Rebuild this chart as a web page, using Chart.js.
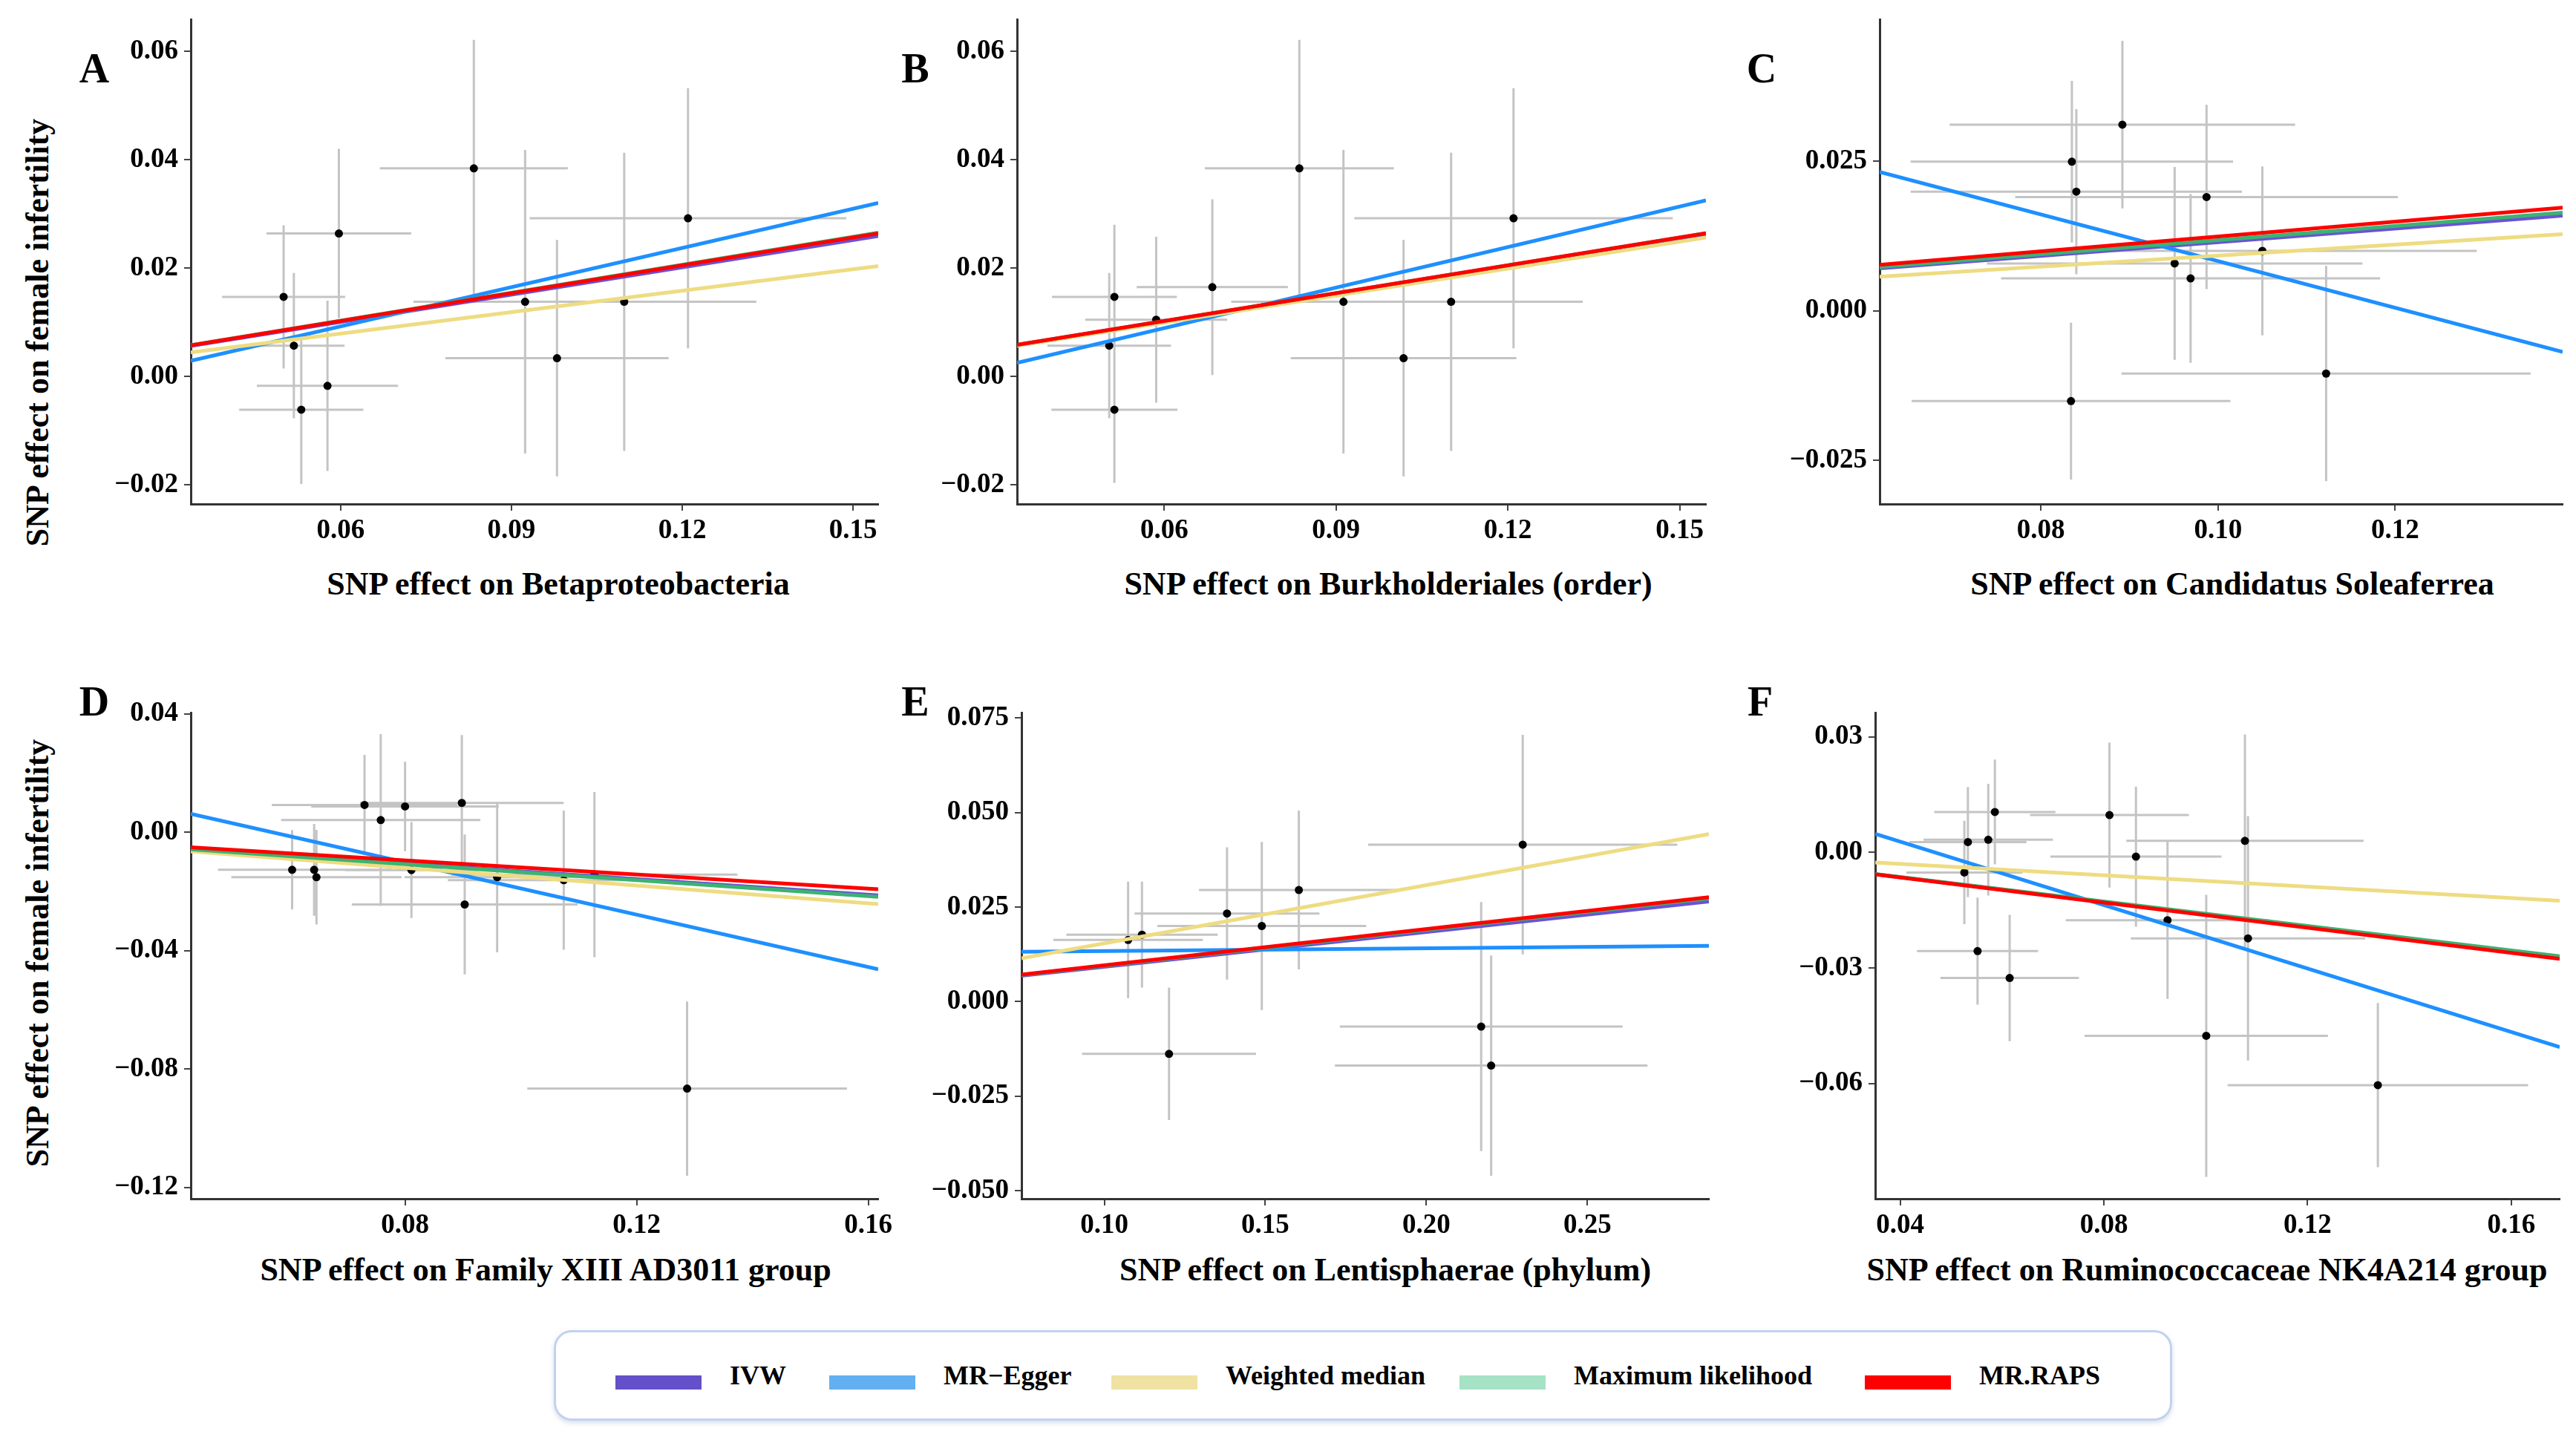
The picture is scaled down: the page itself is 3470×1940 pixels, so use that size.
<!DOCTYPE html>
<html>
<head>
<meta charset="utf-8">
<script src="https://cdn.jsdelivr.net/npm/chart.js@4.4.1/dist/chart.umd.min.js"></script>
<style>
    body {
        margin: 0;
        width: 3470px;
        height: 1940px;
        background: #fff;
        position: relative;
        overflow: hidden;
        font-family: "Liberation Serif", "Times New Roman", serif;
        font-weight: bold;
        color: #000;
    }
    canvas { position: absolute; }
    .letra { position: absolute; font-size: 56px; transform: translate(-50%, -50%); }
    .titulo { position: absolute; font-size: 44px; white-space: nowrap; transform: translate(-50%, -50%); }
    .tituloY { position: absolute; font-size: 44px; white-space: nowrap; transform: translate(-50%, -50%) rotate(-90deg); }
    .legenda {
        position: absolute; left: 746px; top: 1792px; width: 2180px; height: 122px;
        box-sizing: border-box; border: 3px solid #c3d1ee; border-radius: 24px;
        box-shadow: 0 3px 6px rgba(140, 160, 210, 0.35);
    }
    .item { position: absolute; top: 0; height: 100%; display: flex; align-items: center; font-size: 36px; }
    .cor { width: 116px; height: 19px; margin-right: 38px; margin-top: 18px; }
</style>
</head>
<body>

<div class="letra" style="left:127px; top:92px">A</div>
<div class="letra" style="left:1233px; top:92px">B</div>
<div class="letra" style="left:2373px; top:92px">C</div>
<div class="letra" style="left:127px; top:945px">D</div>
<div class="letra" style="left:1233px; top:945px">E</div>
<div class="letra" style="left:2371px; top:945px">F</div>

<div class="tituloY" style="left:50px; top:448px">SNP effect on female infertility</div>
<div class="tituloY" style="left:50px; top:1284px">SNP effect on female infertility</div>

<div class="titulo" style="left:752px; top:786px">SNP effect on Betaproteobacteria</div>
<div class="titulo" style="left:1870px; top:786px">SNP effect on Burkholderiales (order)</div>
<div class="titulo" style="left:3007px; top:786px">SNP effect on Candidatus Soleaferrea</div>
<div class="titulo" style="left:735px; top:1710px">SNP effect on Family XIII AD3011 group</div>
<div class="titulo" style="left:1866px; top:1710px">SNP effect on Lentisphaerae (phylum)</div>
<div class="titulo" style="left:2973px; top:1710px">SNP effect on Ruminococcaceae NK4A214 group</div>

<div class="legenda" id="legenda"></div>

<script>
// metodos MR (ordem da legenda)
const metodos = ['IVW', 'MR\u2212Egger', 'Weighted median', 'Maximum likelihood', 'MR.RAPS'];
const coresLinhas = ['#6a52d6', '#1e90ff', '#eedc82', '#3cb371', '#ff0000'];
const coresLegenda = ['#6451c9', '#62b0f2', '#efe2a2', '#a6e2c6', '#ff0000'];

// A - Betaproteobacteria
const xA = [0.050, 0.0597, 0.0518, 0.0577, 0.0531, 0.0834, 0.0924, 0.098, 0.1098, 0.121];
const yA = [0.0147, 0.0264, 0.0057, -0.0017, -0.0061, 0.0384, 0.0138, 0.0034, 0.0138, 0.0292];
const seXA = [0.0108, 0.0127, 0.0089, 0.0124, 0.0109, 0.0165, 0.0196, 0.0196, 0.0232, 0.0278];
const seYA = [0.0132, 0.0156, 0.0134, 0.0157, 0.0137, 0.0237, 0.028, 0.0218, 0.0275, 0.024];
const inclinacaoA = [0.168, 0.241, 0.132, 0.172, 0.171];
const eggerA = -0.0052;
const ticksXA = [0.06, 0.09, 0.12, 0.15];
const ticksYA = [-0.02, 0, 0.02, 0.04, 0.06];

// B - Burkholderiales (order)
const xB = [0.0513, 0.0586, 0.0684, 0.0504, 0.0513, 0.0836, 0.0913, 0.1018, 0.1101, 0.121];
const yB = [0.0147, 0.0105, 0.0165, 0.0057, -0.0061, 0.0384, 0.0138, 0.0034, 0.0138, 0.0292];
const seXB = [0.0109, 0.0124, 0.0132, 0.0108, 0.011, 0.0165, 0.0196, 0.0197, 0.023, 0.0278];
const seYB = [0.0133, 0.0153, 0.0162, 0.0134, 0.0135, 0.0237, 0.028, 0.0218, 0.0275, 0.024];
const inclinacaoB = [0.168, 0.249, 0.166, 0.171, 0.171];
const eggerB = -0.006;
const ticksXB = [0.06, 0.09, 0.12, 0.15];
const ticksYB = [-0.02, 0, 0.02, 0.04, 0.06];

// C - Candidatus Soleaferrea
const xC = [0.0892, 0.0835, 0.084, 0.0987, 0.105, 0.0951, 0.0969, 0.0834, 0.1122];
const yC = [0.0311, 0.0249, 0.0199, 0.019, 0.01, 0.0079, 0.0054, -0.0151, -0.0105];
const seXC = [0.0195, 0.0182, 0.0187, 0.0216, 0.0242, 0.0212, 0.0214, 0.018, 0.0231];
const seYC = [0.014, 0.0135, 0.0138, 0.0154, 0.0141, 0.0161, 0.0141, 0.0131, 0.018];
const inclinacaoC = [0.1145, -0.39, 0.092, 0.118, 0.124];
const eggerC = 0.0473;
const ticksXC = [0.08, 0.10, 0.12];
const ticksYC = [-0.025, 0, 0.025];

// D - Family XIII AD3011 group
const xD = [0.073, 0.080, 0.0898, 0.0758, 0.0605, 0.0643, 0.0647, 0.0903, 0.0811, 0.0959, 0.1074, 0.1127, 0.1287];
const yD = [0.0092, 0.0087, 0.0099, 0.0041, -0.0127, -0.0127, -0.0152, -0.0244, -0.0128, -0.0152, -0.0162, -0.0143, -0.0866];
const seXD = [0.016, 0.0162, 0.0176, 0.0172, 0.0128, 0.0135, 0.0147, 0.0195, 0.0115, 0.016, 0.02, 0.0247, 0.0276];
const seYD = [0.0169, 0.0151, 0.0229, 0.029, 0.0134, 0.0155, 0.016, 0.0236, 0.0162, 0.0254, 0.0235, 0.0279, 0.0294];
const inclinacaoD = [-0.132, -0.442, -0.15, -0.135, -0.119];
const eggerD = 0.0252;
const ticksXD = [0.08, 0.12, 0.16];
const ticksYD = [-0.12, -0.08, -0.04, 0, 0.04];

// E - Lentisphaerae (phylum)
const xE = [0.1074, 0.1117, 0.1381, 0.1489, 0.1604, 0.1201, 0.2299, 0.217, 0.2201];
const yE = [0.0163, 0.0177, 0.0233, 0.02, 0.0295, -0.0138, 0.0415, -0.0066, -0.0169];
const seXE = [0.0232, 0.0235, 0.0287, 0.0324, 0.031, 0.027, 0.048, 0.0439, 0.0485];
const seYE = [0.0154, 0.014, 0.0175, 0.0222, 0.021, 0.0175, 0.029, 0.0329, 0.0291];
const inclinacaoE = [0.092, 0.0075, 0.154, 0.095, 0.096];
const eggerE = 0.0126;
const ticksXE = [0.10, 0.15, 0.20, 0.25];
const ticksYE = [-0.05, -0.025, 0, 0.025, 0.05, 0.075];

// F - Ruminococcaceae NK4A214 group
const xF = [0.0586, 0.0573, 0.0533, 0.0526, 0.0552, 0.0615, 0.0811, 0.0863, 0.0925, 0.1077, 0.1083, 0.1001, 0.1338];
const yF = [0.0105, 0.0033, 0.0027, -0.0052, -0.0256, -0.0326, 0.0097, -0.0011, -0.0176, 0.003, -0.0223, -0.0476, -0.0604];
const seXF = [0.0119, 0.0127, 0.0115, 0.0114, 0.0119, 0.0136, 0.0156, 0.0168, 0.020, 0.0233, 0.023, 0.0239, 0.0295];
const seYF = [0.0136, 0.0145, 0.0143, 0.0134, 0.0139, 0.0164, 0.0188, 0.0182, 0.0204, 0.0276, 0.0317, 0.0366, 0.0213];
const inclinacaoF = [-0.161, -0.412, -0.074, -0.159, -0.163];
const eggerF = 0.0193;
const ticksXF = [0.04, 0.08, 0.12, 0.16];
const ticksYF = [-0.06, -0.03, 0, 0.03];

const fonteTick = { family: '"Liberation Serif", "Times New Roman", serif', weight: 'bold', size: 37 };
const MARGEM_ESQ = 240;
const MARGEM_TOPO = 40;
const MARGEM_DIR = 60;
const MARGEM_BAIXO = 80;

function formatar(valor, casas) {
    return valor.toFixed(casas).replace('-', '\u2212');
}

function criarPainel(p) {
    const canvas = document.createElement('canvas');
    canvas.width = (p.direita - p.esquerda) + MARGEM_ESQ + MARGEM_DIR;
    canvas.height = (p.baixo - p.topo) + MARGEM_TOPO + MARGEM_BAIXO;
    canvas.style.left = (p.esquerda - MARGEM_ESQ) + 'px';
    canvas.style.top = (p.topo - MARGEM_TOPO) + 'px';
    document.body.appendChild(canvas);

    // barras de erro (segmentos separados por pontos nulos)
    const barrasX = [];
    const barrasY = [];
    const pontos = [];
    for (var i = 0; i < p.x.length; i++) {
        barrasX.push({ x: p.x[i] - p.seX[i], y: p.y[i] }, { x: p.x[i] + p.seX[i], y: p.y[i] }, { x: null, y: null });
        barrasY.push({ x: p.x[i], y: p.y[i] - p.seY[i] }, { x: p.x[i], y: p.y[i] + p.seY[i] }, { x: null, y: null });
        pontos.push({ x: p.x[i], y: p.y[i] });
    }

    // retas de cada metodo (so o MR-Egger tem intercepto)
    const retas = [];
    for (var m = 0; m < metodos.length; m++) {
        const b0 = m == 1 ? p.egger : 0;
        retas.push({
            label: metodos[m],
            data: [
                { x: p.xLim[0], y: b0 + p.inclinacao[m] * p.xLim[0] },
                { x: p.xLim[1], y: b0 + p.inclinacao[m] * p.xLim[1] }
            ],
            showLine: true,
            borderColor: coresLinhas[m],
            borderWidth: 5,
            pointRadius: 0
        });
    }
    // o primeiro dataset fica por cima: MR.RAPS no topo
    retas.reverse();

    const datasets = retas.concat([
        { label: 'pontos', data: pontos, pointRadius: 5.5, pointBackgroundColor: '#000', pointBorderWidth: 0 },
        { label: 'erroY', data: barrasY, showLine: true, borderColor: '#c4c4c4', borderWidth: 3, pointRadius: 0 },
        { label: 'erroX', data: barrasX, showLine: true, borderColor: '#c4c4c4', borderWidth: 3, pointRadius: 0 }
    ]);

    const eixo = {
        grid: { display: true, drawOnChartArea: false, drawTicks: true, tickLength: 9, color: '#444', lineWidth: 2 },
        border: { display: true, color: '#333', width: 3 }
    };

    return new Chart(canvas, {
        type: 'scatter',
        data: { datasets: datasets },
        options: {
            responsive: false,
            animation: false,
            layout: { padding: { top: MARGEM_TOPO, right: MARGEM_DIR, left: 0, bottom: 0 } },
            plugins: { legend: { display: false }, tooltip: { enabled: false } },
            scales: {
                x: {
                    type: 'linear',
                    min: p.xLim[0],
                    max: p.xLim[1],
                    grid: eixo.grid,
                    border: eixo.border,
                    afterBuildTicks: function (s) { s.ticks = p.ticksX.map(v => ({ value: v })); },
                    afterFit: function (s) { s.height = MARGEM_BAIXO; },
                    ticks: {
                        font: fonteTick, color: '#000', padding: 5, maxRotation: 0, autoSkip: false,
                        callback: function (v) { return formatar(v, p.casasX); }
                    }
                },
                y: {
                    type: 'linear',
                    min: p.yLim[0],
                    max: p.yLim[1],
                    grid: eixo.grid,
                    border: eixo.border,
                    afterBuildTicks: function (s) { s.ticks = p.ticksY.map(v => ({ value: v })); },
                    afterFit: function (s) { s.width = MARGEM_ESQ; },
                    ticks: {
                        font: fonteTick, color: '#000', padding: 8, autoSkip: false,
                        callback: function (v) { return formatar(v, p.casasY); }
                    }
                }
            }
        }
    });
}

criarPainel({ esquerda: 257, direita: 1183, topo: 26, baixo: 679, x: xA, y: yA, seX: seXA, seY: seYA,
    inclinacao: inclinacaoA, egger: eggerA, xLim: [0.0337, 0.1544], yLim: [-0.0235, 0.0659],
    ticksX: ticksXA, ticksY: ticksYA, casasX: 2, casasY: 2 });
criarPainel({ esquerda: 1370, direita: 2298, topo: 26, baixo: 679, x: xB, y: yB, seX: seXB, seY: seYB,
    inclinacao: inclinacaoB, egger: eggerB, xLim: [0.0343, 0.1546], yLim: [-0.0235, 0.0659],
    ticksX: ticksXB, ticksY: ticksYB, casasX: 2, casasY: 2 });
criarPainel({ esquerda: 2532, direita: 3452, topo: 26, baixo: 679, x: xC, y: yC, seX: seXC, seY: seYC,
    inclinacao: inclinacaoC, egger: eggerC, xLim: [0.0618, 0.1389], yLim: [-0.0323, 0.0487],
    ticksX: ticksXC, ticksY: ticksYC, casasX: 2, casasY: 3 });
criarPainel({ esquerda: 257, direita: 1183, topo: 960, baixo: 1615, x: xD, y: yD, seX: seXD, seY: seYD,
    inclinacao: inclinacaoD, egger: eggerD, xLim: [0.043, 0.1617], yLim: [-0.1238, 0.0404],
    ticksX: ticksXD, ticksY: ticksYD, casasX: 2, casasY: 2 });
criarPainel({ esquerda: 1376, direita: 2302, topo: 960, baixo: 1615, x: xE, y: yE, seX: seXE, seY: seYE,
    inclinacao: inclinacaoE, egger: eggerE, xLim: [0.0743, 0.2877], yLim: [-0.0521, 0.0764],
    ticksX: ticksXE, ticksY: ticksYE, casasX: 2, casasY: 3 });
criarPainel({ esquerda: 2526, direita: 3448, topo: 960, baixo: 1615, x: xF, y: yF, seX: seXF, seY: seYF,
    inclinacao: inclinacaoF, egger: eggerF, xLim: [0.0351, 0.1695], yLim: [-0.0899, 0.0363],
    ticksX: ticksXF, ticksY: ticksYF, casasX: 2, casasY: 2 });

// legenda comum
const posLegenda = [80, 368, 748, 1217, 1763];
const legenda = document.getElementById('legenda');
for (var k = 0; k < metodos.length; k++) {
    legenda.innerHTML += `<div class="item" style="left:${posLegenda[k]}px"><div class="cor" style="background:${coresLegenda[k]}"></div><span>${metodos[k]}</span></div>`;
}
</script>
</body>
</html>
